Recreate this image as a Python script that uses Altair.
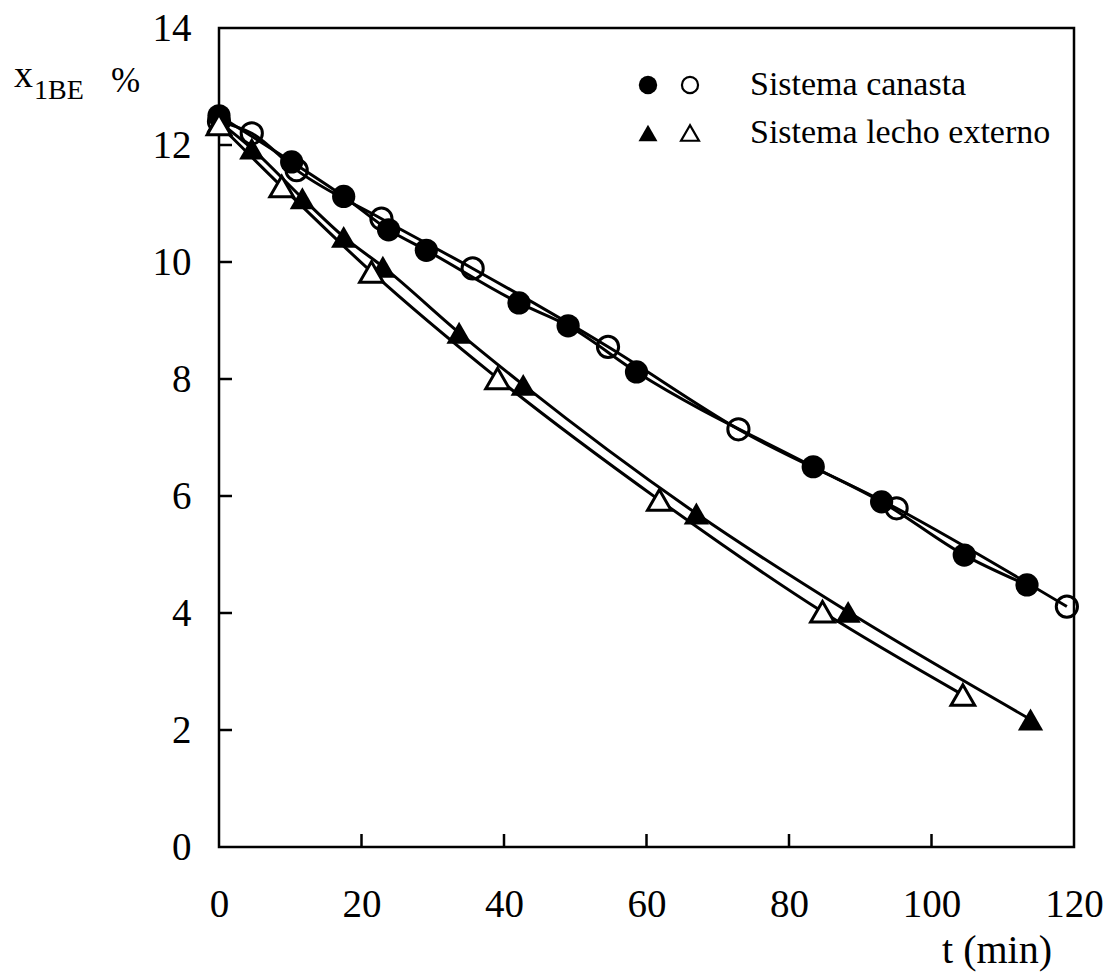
import altair as alt
import pandas as pd

# ---- data ----
canasta_filled_t = [0, 10.2, 17.5, 23.8, 29.1, 42.1, 49.0, 58.6, 83.4, 93.0, 104.6, 113.4]
canasta_filled_x = [12.5, 11.71, 11.12, 10.55, 10.2, 9.30, 8.91, 8.12, 6.50, 5.90, 4.99, 4.48]

canasta_open_t = [0, 4.6, 10.9, 22.8, 35.6, 54.6, 72.9, 95.1, 119.0]
canasta_open_x = [12.4, 12.2, 11.57, 10.74, 9.89, 8.55, 7.14, 5.79, 4.11]

lecho_filled_t = [0, 4.6, 11.7, 17.5, 23.0, 33.7, 42.7, 67.0, 88.3, 113.9]
lecho_filled_x = [12.4, 11.94, 11.09, 10.43, 9.92, 8.79, 7.90, 5.70, 4.02, 2.18]

lecho_open_t = [0, 8.8, 21.4, 39.1, 61.8, 84.7, 104.4]
lecho_open_x = [12.35, 11.29, 9.83, 8.01, 5.93, 4.02, 2.60]

x_ticks = [0, 20, 40, 60, 80, 100, 120]
y_ticks = [0, 2, 4, 6, 8, 10, 12, 14]
legend_labels = ["Sistema canasta", "Sistema lecho externo"]

FONT = "Liberation Serif"
W, H = 855, 819

def frame(t, x, name):
    return pd.DataFrame({"t": t, "x": x, "series": name})

df_cf = frame(canasta_filled_t, canasta_filled_x, "cf")
df_co = frame(canasta_open_t, canasta_open_x, "co")
df_lf = frame(lecho_filled_t, lecho_filled_x, "lf")
df_lo = frame(lecho_open_t, lecho_open_x, "lo")

xs = alt.Scale(domain=[0, 120], nice=False, zero=False)
ys = alt.Scale(domain=[0, 14], nice=False, zero=False)

X = alt.X("t:Q", scale=xs, axis=alt.Axis(
    values=x_ticks, title=None, ticks=False, tickSize=0, domain=False, grid=False,
    labelFont=FONT, labelFontSize=39, labelColor="black", labelPadding=38,
    labelFlush=False, labelOverlap=False, format="d"))
Y = alt.Y("x:Q", scale=ys, axis=alt.Axis(
    values=y_ticks, title=None, ticks=False, tickSize=0, domain=False, grid=False,
    labelFont=FONT, labelFontSize=39, labelColor="black", labelPadding=28,
    labelFlush=False, labelOverlap=False, format="d"))

def line(df):
    return alt.Chart(df).mark_line(color="black", strokeWidth=3, interpolate="monotone").encode(x=X, y=Y)

lines = [line(df_cf), line(df_co), line(df_lf), line(df_lo)]

pts_cf = alt.Chart(df_cf).mark_point(shape="circle", filled=True, color="black", size=540, opacity=1).encode(x=X, y=Y)
pts_co = alt.Chart(df_co).mark_point(shape="circle", filled=False, color="black", size=450, strokeWidth=3, opacity=1).encode(x=X, y=Y)
pts_lf = alt.Chart(df_lf).mark_point(shape="triangle-up", filled=True, color="black", size=640, opacity=1).encode(x=X, y=Y)
pts_lo = alt.Chart(df_lo).mark_point(shape="triangle-up", filled=True, fill="white", stroke="black", size=560, strokeWidth=3, opacity=1).encode(x=X, y=Y)

# inward ticks
xt = pd.DataFrame({"t": x_ticks[1:-1]})
yt = pd.DataFrame({"x": y_ticks[1:-1]})
xtick_rules = alt.Chart(xt).mark_rule(color="black", strokeWidth=2.5).encode(
    x=X, y=alt.value(H), y2=alt.value(H - 13))
ytick_rules = alt.Chart(yt).mark_rule(color="black", strokeWidth=2.5).encode(
    y=Y, x=alt.value(0), x2=alt.value(13))

# legend (manual, two symbols per row)
leg = pd.DataFrame({"label": legend_labels, "row": [0, 1]})
leg_y = [57, 105]
def leg_sym(row, shape, filled, xpos, size):
    d = leg[leg.row == row]
    if filled:
        m = alt.Chart(d).mark_point(shape=shape, filled=True, color="black", size=size, opacity=1)
    else:
        m = alt.Chart(d).mark_point(shape=shape, filled=False, color="black", size=size, strokeWidth=2.2, opacity=1)
    return m.encode(x=alt.value(xpos), y=alt.value(leg_y[row]))

leg_syms = [
    leg_sym(0, "circle", True, 429, 340),
    leg_sym(0, "circle", False, 471, 260),
    leg_sym(1, "triangle-up", True, 429, 360),
    leg_sym(1, "triangle-up", False, 471, 320),
]
leg_text = [
    alt.Chart(leg[leg.row == r]).mark_text(font=FONT, fontSize=34, align="left", baseline="middle", color="black").encode(
        x=alt.value(531), y=alt.value(leg_y[r]), text="label:N")
    for r in [0, 1]
]

# axis titles
ttl = pd.DataFrame({"a": ["x"], "b": ["1BE"], "c": ["%"], "d": ["t (min)"]})
yt_x = alt.Chart(ttl).mark_text(font=FONT, fontSize=38, align="left", baseline="alphabetic", color="black").encode(
    x=alt.value(-205), y=alt.value(59), text="a:N")
yt_sub = alt.Chart(ttl).mark_text(font=FONT, fontSize=28, align="left", baseline="alphabetic", color="black").encode(
    x=alt.value(-185), y=alt.value(71), text="b:N")
yt_pct = alt.Chart(ttl).mark_text(font=FONT, fontSize=35, align="left", baseline="alphabetic", color="black").encode(
    x=alt.value(-108), y=alt.value(64), text="c:N")
xt_title = alt.Chart(ttl).mark_text(font=FONT, fontSize=40, align="right", baseline="alphabetic", color="black").encode(
    x=alt.value(833), y=alt.value(935), text="d:N")

chart = alt.layer(
    *lines, pts_cf, pts_co, pts_lf, pts_lo, xtick_rules, ytick_rules,
    *leg_syms, *leg_text, yt_x, yt_sub, yt_pct, xt_title
).properties(
    width=W, height=H,
    autosize=alt.AutoSizeParams(type="none"),
    padding={"left": 219, "top": 28, "right": 34, "bottom": 129},
    background="white",
).configure_view(stroke="black", strokeWidth=2.5)

chart.save("out.html", embed_options={"renderer": "svg", "actions": False})
